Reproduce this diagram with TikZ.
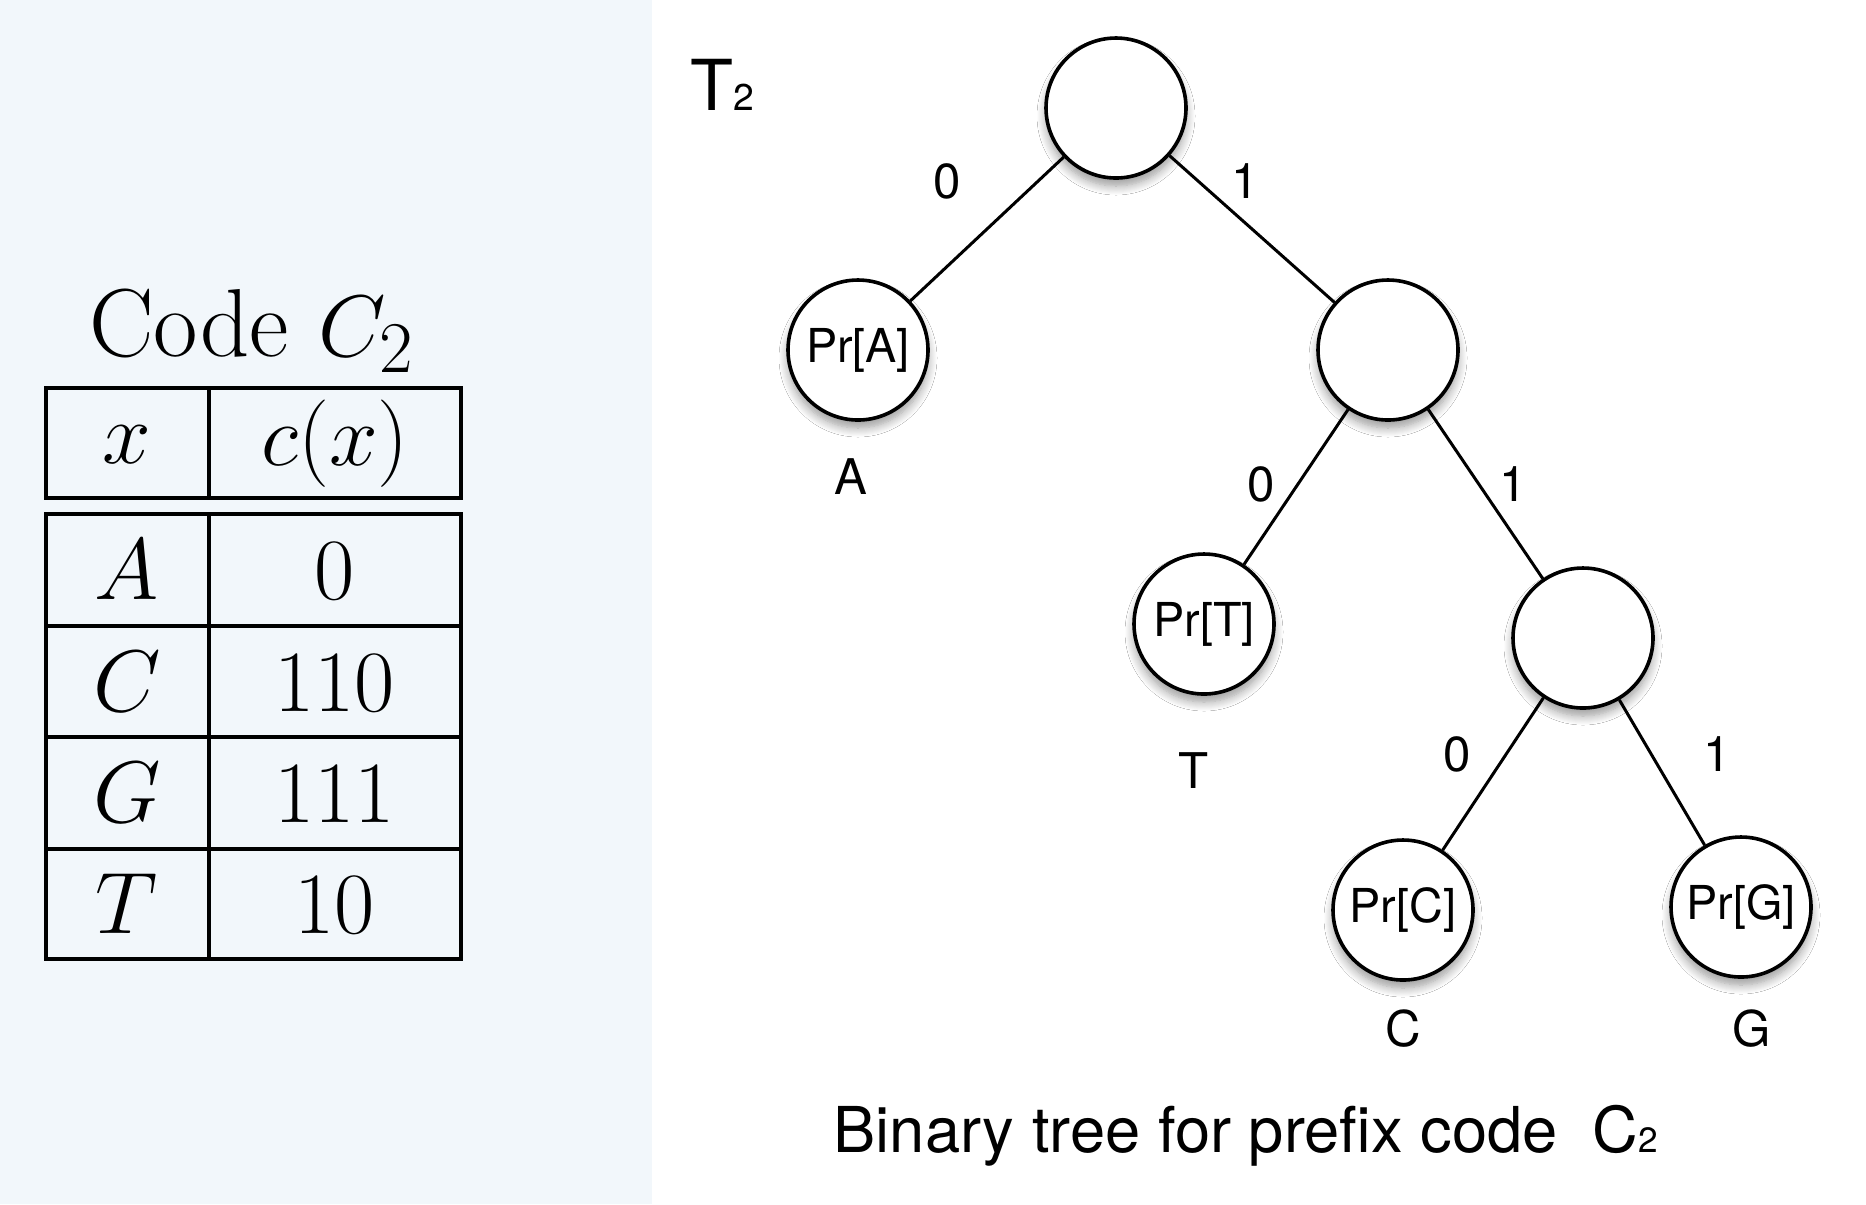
\documentclass[tikz,border=0pt]{standalone}
\usepackage{fontspec}
\newfontfamily\helv{TeX Gyre Heros}
\usetikzlibrary{shadows.blur}
\definecolor{panelbg}{HTML}{F2F7FB}

\begin{document}
\begin{tikzpicture}[x=0.1mm, y=-0.1mm,
    treenode/.style={circle, draw, line width=0.36mm, fill=white, minimum size=14mm, inner sep=0pt,
      font=\helv\fontsize{13.3}{15}\selectfont,
      blur shadow={shadow xshift=0mm, shadow yshift=-0.8mm, shadow blur radius=0.9mm, shadow blur steps=10}},
    bitlabel/.style={font=\helv\fontsize{14}{16}\selectfont},
    cell/.style={anchor=base, font=\fontsize{26.5}{32}\selectfont},
    rule/.style={line width=0.32mm},
    edge/.style={line width=0.3mm}]
      \useasboundingbox (0,0) rectangle (1866,1204);
      \fill[white] (0,0) rectangle (1866,1204);
      \fill[panelbg] (0,0) rectangle (652,1204);

      % code table
      \node[cell, font=\fontsize{27.5}{32}\selectfont] (title) at (252,356) {Code $C_2$};
      \draw[rule] (46,388) rectangle (461,498);
      \draw[rule] (209,388) -- (209,498);
      \draw[rule] (46,514) rectangle (461,959);
      \draw[rule] (209,514) -- (209,959);
      \draw[rule] (46,626) -- (461,626);
      \draw[rule] (46,737) -- (461,737);
      \draw[rule] (46,849) -- (461,849);
      \node[cell] (hx) at (127,463) {$x$};
      \node[cell] (hc) at (335,465) {$c(x)$};
      \node[cell] (xa) at (127,599) {$A$};
      \node[cell] (ca) at (335,599) {$0$};
      \node[cell] (xc) at (127,711) {$C$};
      \node[cell] (cc) at (335,711) {$110$};
      \node[cell] (xg) at (127,822) {$G$};
      \node[cell] (cg) at (335,822) {$111$};
      \node[cell] (xt) at (127,933) {$T$};
      \node[cell] (ct) at (335,933) {$10$};

      % tree T2
      \node[anchor=base west, font=\helv\fontsize{20}{24}\selectfont, inner sep=0pt] (tname) at (690,110) {T\fontsize{10.6}{12}\selectfont 2};
      \node[treenode] (root) at (1116,108) {};
      \node[treenode] (pa) at (858,350) {Pr[A]};
      \node[treenode] (n1) at (1388,350) {};
      \node[treenode] (pt) at (1204,624) {Pr[T]};
      \node[treenode] (n11) at (1583,638) {};
      \node[treenode] (pc) at (1403,910) {Pr[C]};
      \node[treenode] (pg) at (1741,907) {Pr[G]};

      \draw[edge] (root) -- (pa);
      \draw[edge] (root) -- (n1);
      \draw[edge] (n1) -- (pt);
      \draw[edge] (n1) -- (n11);
      \draw[edge] (n11) -- (pc);
      \draw[edge] (n11) -- (pg);

      \node[bitlabel] (b0) at (947,181) {0};
      \node[bitlabel] (b1) at (1245,181) {1};
      \node[bitlabel] (b10) at (1261,484) {0};
      \node[bitlabel] (b11) at (1513,484) {1};
      \node[bitlabel] (b110) at (1457,754) {0};
      \node[bitlabel] (b111) at (1717,754) {1};
      \node[bitlabel] (la) at (851,477) {A};
      \node[bitlabel] (lt) at (1194,771) {T};
      \node[bitlabel] (lc) at (1403,1029) {C};
      \node[bitlabel] (lg) at (1752,1029) {G};

      \node[anchor=base west, font=\helv\fontsize{18}{22}\selectfont, inner sep=0pt] (caption) at (833,1152) {Binary tree for prefix code\ \ C\fontsize{10}{12}\selectfont 2};
    \end{tikzpicture}
\end{document}
